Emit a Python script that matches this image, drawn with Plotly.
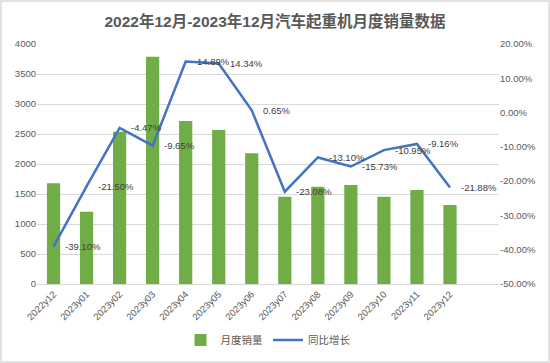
import plotly.graph_objects as go

categories = ["2022y12", "2023y01", "2023y02", "2023y03", "2023y04", "2023y05", "2023y06",
              "2023y07", "2023y08", "2023y09", "2023y10", "2023y11", "2023y12"]
sales = [1678, 1205, 2538, 3788, 2717, 2567, 2178, 1455, 1622, 1650, 1455, 1567, 1317]
growth = [-39.10, -21.50, -4.47, -9.65, 14.89, 14.34, 0.65, -23.08, -13.10, -15.73, -10.95, -9.16, -21.88]
growth_labels = [f"{v:.2f}%" for v in growth]
left_ticks = list(range(0, 4001, 500))
right_ticks = list(range(-50, 21, 10))
right_tick_text = [f"{v:.2f}%" for v in right_ticks]

FONT = "Liberation Sans, Noto Sans CJK SC, sans-serif"
GRAY = "#595959"

fig = go.Figure()
fig.add_trace(go.Bar(
    x=categories, y=sales, name="月度销量",
    marker=dict(color="#70AD47", line=dict(width=0)),
    yaxis="y",
))
fig.add_trace(go.Scatter(
    x=categories, y=growth, name="同比增长",
    mode="lines",
    line=dict(color="#4472C4", width=2.5),
    yaxis="y2", cliponaxis=False,
))

annotations = [
    dict(x=c, y=g, xref="x", yref="y2", text=t, showarrow=False,
         xanchor="left", yanchor="middle", xshift=9,
         font=dict(size=9.5, color="#404040", family=FONT))
    for c, g, t in zip(categories, growth, growth_labels)
]

fig.update_layout(
    width=550, height=363,
    margin=dict(l=37, r=51, t=44, b=79, autoexpand=False),
    paper_bgcolor="white", plot_bgcolor="white",
    font=dict(family=FONT, color=GRAY, size=10),
    title=dict(text="<b>2022年12月-2023年12月汽车起重机月度销量数据</b>",
               x=0.5, xanchor="center", y=1 - 22 / 363, yanchor="middle",
               yref="container",
               font=dict(size=15.5, color=GRAY, family=FONT)),
    bargap=0.6,
    showlegend=True,
    legend=dict(orientation="h", x=0.5, xanchor="center", y=1 - 340 / 363, yanchor="middle",
                yref="container",
                font=dict(size=10.5, color=GRAY), itemwidth=30, tracegroupgap=0),
    xaxis=dict(type="category", tickangle=-45, tickfont=dict(size=9.5, color=GRAY),
               showgrid=False, showline=True, linecolor="#D9D9D9", ticks="", automargin=False),
    yaxis=dict(range=[0, 4000], tickvals=left_ticks, showgrid=True, gridcolor="#D9D9D9",
               zeroline=False, tickfont=dict(size=9.5, color=GRAY), ticks="", automargin=False),
    yaxis2=dict(range=[-50, 20], overlaying="y", side="right", tickvals=right_ticks,
                ticktext=right_tick_text, showgrid=False, zeroline=False,
                tickfont=dict(size=9.5, color=GRAY), ticks="", automargin=False),
    annotations=annotations,
    shapes=[dict(type="rect", xref="paper", yref="paper",
                 x0=-36/462, x1=1 + 50/462, y0=-78/240, y1=1 + 43/240,
                 line=dict(color="#D9D9D9", width=1.5), fillcolor="rgba(0,0,0,0)")],
)

fig.write_html(
    "out.html",
    config={"displayModeBar": False},
    post_script="document.body.style.margin='0';document.body.style.overflow='hidden';",
)
